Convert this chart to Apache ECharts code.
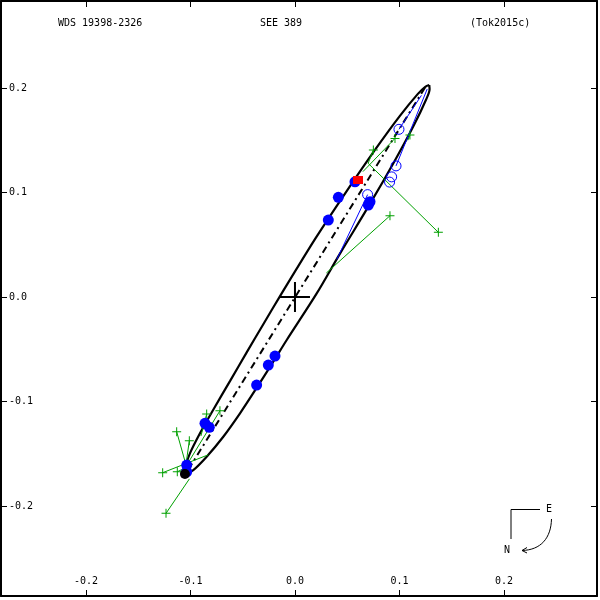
<!DOCTYPE html>
<html>
<head>
<meta charset="utf-8">
<script src="https://cdn.jsdelivr.net/npm/echarts@6/dist/echarts.min.js"></script>
<style>html,body{margin:0;padding:0;background:#fff;}#c{width:600px;height:600px;}</style>
</head>
<body>
<div id="c"></div>
<script>
// ---- data (arcsec) ----
const tickValues = [-0.2, -0.1, 0.0, 0.1, 0.2];
const titleLeft = 'WDS 19398-2326';
const titleMid = 'SEE 389';
const titleRight = '(Tok2015c)';

// apparent orbit, traced around the ellipse (upper tip -> left edge -> lower tip -> right edge)
const orbitPoints = [
  [0.1285,0.2029],[0.1247,0.2012],[0.1174,0.1942],[0.1004,0.1734],[0.0774,0.1420],
  [0.0498,0.1019],[0.0196,0.0561],[-0.0130,0.0030],[-0.0303,-0.0260],[-0.0462,-0.0530],
  [-0.0622,-0.0805],[-0.0782,-0.1078],[-0.0909,-0.1304],[-0.1005,-0.1496],[-0.1053,-0.1640],
  [-0.1062,-0.1700],
  [-0.0973,-0.1656],[-0.0845,-0.1528],[-0.0686,-0.1337],[-0.0526,-0.1113],[-0.0367,-0.0870],
  [-0.0208,-0.0619],[-0.0079,-0.0411],[0.0208,0.0035],[0.0429,0.0413],[0.0713,0.0884],
  [0.0955,0.1305],[0.1140,0.1649],[0.1255,0.1891],[0.1288,0.1988],[0.1285,0.2029]
];
const nodeLine = [[-0.102,-0.165],[0.126,0.203]];
const primary = [[0, 0]];

const filledMeasures = [
  [0.0415,0.0954],[0.0319,0.0737],[0.0702,0.0880],[0.0718,0.0912],[0.0574,0.1103],
  [-0.0191,-0.0565],[-0.0255,-0.0651],[-0.0367,-0.0842],[-0.0861,-0.1209],[-0.082,-0.1247],
  [-0.1036,-0.1608],[-0.1036,-0.1672]
];
const periastronDot = [[-0.1053,-0.1694]];
const redMeasure = [[0.0603,0.112]];
const openMeasures = [[0.0995,0.1605],[0.0967,0.1255],[0.0925,0.1150],[0.0905,0.1100],[0.0695,0.098]];
const blueResiduals = [
  [[0.0995,0.1605],[0.121,0.193]],
  [[0.0967,0.1255],[0.1265,0.199]],
  [[0.0695,0.098],[0.040,0.036]]
];
const greenMeasures = [
  [0.0957,0.1518],[0.075,0.1407],[0.110,0.155],[0.0909,0.0778],[0.1372,0.0619],
  [-0.0845,-0.112],[-0.0718,-0.1088],[-0.1132,-0.1289],[-0.1011,-0.1375],
  [-0.1266,-0.1681],[-0.1126,-0.1672],[-0.1234,-0.207]
];
const greenPredicted = [
  [0.065,0.120],[0.070,0.128],[0.108,0.150],[0.030,0.023],[0.070,0.128],
  [-0.090,-0.133],[-0.1024,-0.1589],[-0.105,-0.158],[-0.104,-0.158],
  [-0.083,-0.151],[-0.104,-0.163],[-0.101,-0.174]
];

// ---- chart ----
const mono = 'DejaVu Sans Mono';
const fmt = v => v.toFixed(1);
const xMin = -0.2813, xMax = 0.2890, yMin = -0.2861, yMax = 0.2833;
const GREEN = '#00a000', BLUE = '#0000ff';

const series = [];
series.push({type:'line', data: orbitPoints, showSymbol:false, symbol:'none', silent:true, smooth:0.3,
  lineStyle:{color:'#000', width:2.2}, z:2, animation:false});
series.push({type:'line', data: nodeLine, showSymbol:false, symbol:'none', silent:true,
  lineStyle:{color:'#000', width:2, type:[7,4,2,4]}, z:2, animation:false});
greenMeasures.forEach((m,i)=>{
  series.push({type:'line', data:[m, greenPredicted[i]], showSymbol:false, symbol:'none', silent:true,
    lineStyle:{color:GREEN, width:1}, z:3, animation:false});
});
blueResiduals.forEach(seg=>{
  series.push({type:'line', data:seg, showSymbol:false, symbol:'none', silent:true,
    lineStyle:{color:BLUE, width:1}, z:3, animation:false});
});
series.push({type:'scatter', data: filledMeasures, symbol:'circle', symbolSize:11,
  itemStyle:{color:BLUE, opacity:1}, z:5, animation:false});
series.push({type:'scatter', data: periastronDot, symbol:'circle', symbolSize:10,
  itemStyle:{color:'#000', opacity:1}, z:6, animation:false});
series.push({type:'scatter', data: openMeasures, symbol:'circle', symbolSize:10,
  itemStyle:{color:'rgba(0,0,0,0)', borderColor:BLUE, borderWidth:1, opacity:1}, z:5, animation:false});
series.push({type:'scatter', data: redMeasure, symbol:'rect', symbolSize:[10,8],
  itemStyle:{color:'#ff0000', opacity:1}, z:6, animation:false});
series.push({type:'scatter', data: greenMeasures,
  symbol:'path://M-4.5,-0.5h9v1h-9z M-0.5,-4.5h1v9h-1z', symbolSize:9,
  itemStyle:{color:GREEN, opacity:1}, z:4, animation:false});
series.push({type:'scatter', data: primary,
  symbol:'path://M-15,-1h30v2h-30z M-1,-15h2v30h-2z', symbolSize:30,
  itemStyle:{color:'#000', opacity:1}, z:7, animation:false});

const xAxisBase = {type:'value', min:xMin, max:xMax, splitLine:{show:false},
  axisLine:{show:true, onZero:false, lineStyle:{color:'#000', width:2}}};
const yAxisBase = {type:'value', min:yMin, max:yMax, splitLine:{show:false},
  axisLine:{show:true, onZero:false, lineStyle:{color:'#000', width:2}}};

const option = {
  backgroundColor:'#fff',
  animation:false,
  grid:{left:1, top:1, right:3, bottom:4, containLabel:false},
  xAxis:[
    Object.assign({}, xAxisBase, {position:'bottom',
      axisTick:{show:true, inside:true, length:6, customValues:tickValues, lineStyle:{color:'#000'}},
      axisLabel:{show:true, inside:true, margin:10, customValues:tickValues, formatter:fmt,
        fontFamily:mono, fontSize:10, color:'#000'}}),
    Object.assign({}, xAxisBase, {position:'top',
      axisTick:{show:true, inside:true, length:6, customValues:tickValues, lineStyle:{color:'#000'}},
      axisLabel:{show:false}})
  ],
  yAxis:[
    Object.assign({}, yAxisBase, {position:'left',
      axisTick:{show:true, inside:true, length:6, customValues:tickValues, lineStyle:{color:'#000'}},
      axisLabel:{show:true, inside:true, margin:8, customValues:tickValues, formatter:fmt,
        fontFamily:mono, fontSize:10, color:'#000'}}),
    Object.assign({}, yAxisBase, {position:'right',
      axisTick:{show:true, inside:true, length:6, customValues:tickValues, lineStyle:{color:'#000'}},
      axisLabel:{show:false}})
  ],
  series: series,
  graphic:[
    {type:'text', left:58, top:18, style:{text:titleLeft, font:'10px "DejaVu Sans Mono"', fill:'#000'}},
    {type:'text', left:260, top:18, style:{text:titleMid, font:'10px "DejaVu Sans Mono"', fill:'#000'}},
    {type:'text', left:470, top:18, style:{text:titleRight, font:'10px "DejaVu Sans Mono"', fill:'#000'}},
    {type:'polyline', shape:{points:[[540,509.5],[511,509.5],[511,539]]}, style:{stroke:'#000', lineWidth:1, fill:null}},
    {type:'text', x:549, y:509, style:{text:'E', font:'10px "DejaVu Sans Mono"', fill:'#000', align:'center', verticalAlign:'middle'}},
    {type:'text', x:507, y:550, style:{text:'N', font:'10px "DejaVu Sans Mono"', fill:'#000', align:'center', verticalAlign:'middle'}},
    {type:'bezierCurve', shape:{x1:551.5, y1:519, cpx1:551, cpy1:538, cpx2:541, cpy2:550, x2:522, y2:550.5},
      style:{stroke:'#000', lineWidth:1, fill:null}},
    {type:'polyline', shape:{points:[[527,547.5],[522,550.5],[527,553]]}, style:{stroke:'#000', lineWidth:1, fill:null}}
  ]
};
const chart = echarts.init(document.getElementById('c'), null, {renderer:'canvas'});
chart.setOption(option);
</script>
</body>
</html>
